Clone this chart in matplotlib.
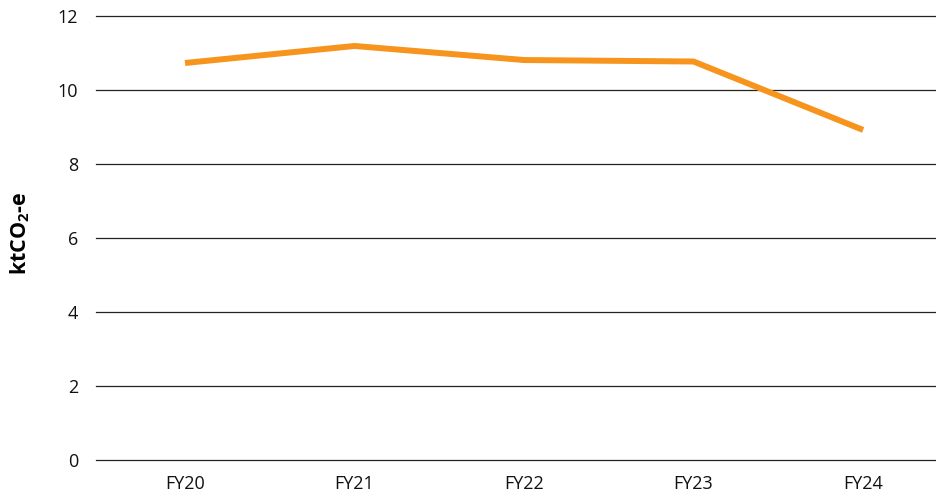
import matplotlib.pyplot as plt
import numpy as np

years = ["FY20", "FY21", "FY22", "FY23", "FY24"]
emissions = [10.73, 11.19, 10.81, 10.77, 8.92]

plt.rcParams['font.family'] = ['Open Sans', 'DejaVu Sans']
plt.rcParams['mathtext.fontset'] = 'custom'
plt.rcParams['mathtext.rm'] = 'Open Sans:bold'
plt.rcParams['mathtext.default'] = 'rm'

fig = plt.figure(figsize=(9.36, 4.99), dpi=100)
ax = fig.add_axes([96/936, 39/499, 840/936, 444/499])

x = np.arange(len(years))
ax.plot(x, emissions, color='#F7941D', linewidth=4.3, solid_capstyle='butt', zorder=3)

ax.set_ylim(0, 12)
ax.set_yticks(np.arange(0, 13, 2))
ax.set_xlim(-0.525, 4.43)
ax.set_xticks(x)
ax.set_xticklabels(years)
ax.grid(axis='y', color='#222222', linewidth=0.9)
for gl in ax.yaxis.get_gridlines():
    gl.set_clip_on(False)
ax.set_axisbelow(True)
for s in ax.spines.values():
    s.set_visible(False)
ax.tick_params(axis='both', length=0, labelsize=13, colors='#111111')
ax.tick_params(axis='y', pad=13)
ax.tick_params(axis='x', pad=11)
ax.set_ylabel(r'ktCO$_2$-e', fontsize=15.5, fontweight='bold')
ax.yaxis.set_label_coords(-0.076, 0.51)

fig.savefig('out.png', dpi=100)
